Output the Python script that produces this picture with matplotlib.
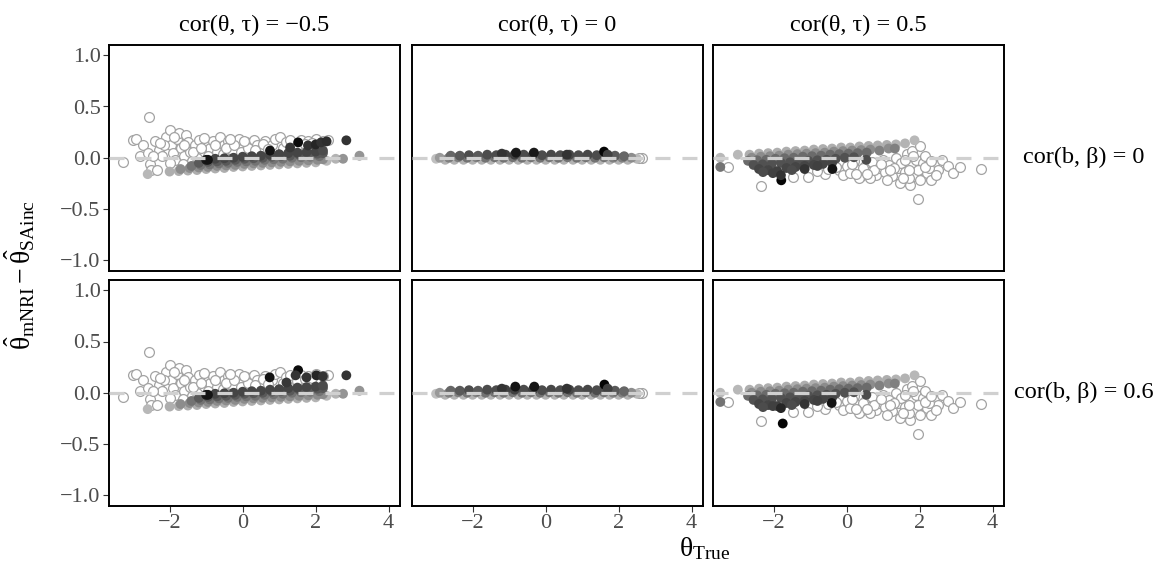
import matplotlib.pyplot as plt

plt.rcParams['font.family'] = 'Liberation Serif'
plt.rcParams['mathtext.fontset'] = 'custom'
plt.rcParams['mathtext.rm'] = 'Liberation Serif'
plt.rcParams['mathtext.it'] = 'Liberation Serif:italic'

# facet labels
col_labels = ['cor(θ, τ) = −0.5', 'cor(θ, τ) = 0', 'cor(θ, τ) = 0.5']
row_labels = ['cor(b, β) = 0', 'cor(b, β) = 0.6']
x_ticks = [-2, 0, 2, 4]
y_ticks = [-1.0, -0.5, 0.0, 0.5, 1.0]

# open (unfilled) points per column, (theta_true, difference) - same look in both rows
open_c0 = [(-3.28, -0.04), (-2.57, 0.40), (-3.0, 0.17), (-2.91, 0.18), (-2.73, 0.12), (-2.8, 0.02),
           (-2.55, -0.06), (-2.5, -0.12), (-2.35, -0.12), (-2.6, 0.05), (-2.4, 0.16), (-2.3, 0.08),
           (-2.2, 0.02), (-2.1, 0.2), (-2.0, 0.27), (-1.95, 0.12), (-1.9, 0.05), (-1.85, -0.02),
           (-1.8, 0.18), (-1.73, 0.24), (-1.7, 0.1), (-1.6, 0.02), (-1.55, 0.22), (-1.5, 0.15),
           (-1.45, 0.06), (-1.4, -0.03), (-1.3, 0.12), (-1.2, 0.17), (-1.1, 0.05), (-1.0, 0.14),
           (-0.9, 0.1), (-0.8, 0.16), (-0.7, 0.06), (-0.63, 0.2), (-0.5, 0.12), (-0.4, 0.16),
           (-0.3, 0.08), (-0.2, 0.14), (-0.1, 0.18), (0.0, 0.1), (0.1, 0.15), (0.2, 0.06),
           (0.3, 0.17), (0.4, 0.12), (0.5, 0.09), (0.6, 0.16), (0.8, 0.12), (0.9, 0.18),
           (1.01, 0.2), (1.1, 0.1), (1.2, 0.15), (1.4, 0.13), (1.6, 0.17), (1.8, 0.16),
           (2.0, 0.18), (2.34, 0.17), (-2.15, 0.12), (-1.25, 0.0), (-2.0, -0.05), (-1.6, 0.12),
           (-2.45, 0.02), (-2.25, 0.14), (-1.88, 0.2), (-1.62, -0.06), (-1.35, 0.06), (-1.15, 0.1),
           (-0.95, 0.02), (-0.75, 0.12), (-0.55, 0.04), (-0.45, 0.1), (-0.25, 0.12), (-0.05, 0.06),
           (0.15, 0.1), (0.35, 0.08), (0.55, 0.13), (0.7, 0.09), (1.3, 0.17), (1.5, 0.11),
           (1.7, 0.13), (1.9, 0.14), (2.2, 0.16), (0.05, 0.16), (-0.35, 0.18), (-1.05, 0.19)]
open_c1 = [(2.65, 0.0), (2.55, 0.0)]
open_c2 = [(-3.25, -0.09), (-2.34, -0.28), (-1.47, -0.19), (-1.06, -0.19), (-0.6, -0.16), (-0.4, -0.05),
           (-0.2, -0.12), (-0.1, -0.17), (0.0, -0.08), (0.1, -0.15), (0.2, -0.03), (0.3, -0.12),
           (0.4, -0.18), (0.5, -0.08), (0.6, -0.14), (0.7, -0.04), (0.8, -0.17), (0.9, -0.10),
           (1.0, -0.02), (1.05, -0.14), (1.15, -0.07), (1.25, -0.18), (1.35, 0.0), (1.4, -0.1),
           (1.45, -0.25), (1.5, -0.05), (1.6, -0.14), (1.65, 0.04), (1.73, -0.27), (1.75, -0.08),
           (1.8, 0.07), (1.85, -0.18), (1.9, -0.02), (1.95, -0.40), (2.0, 0.11), (2.05, -0.12),
           (2.1, -0.05), (2.15, 0.02), (2.2, -0.15), (2.32, -0.22), (2.4, -0.06), (2.5, -0.12),
           (2.6, -0.02), (2.78, -0.08), (2.91, -0.15), (3.1, -0.09), (3.69, -0.11), (-0.8, -0.13),
           (0.35, -0.2), (1.1, -0.22), (1.3, -0.1), (1.7, -0.2), (2.25, -0.1), (0.65, -0.2),
           (-0.3, -0.09), (0.15, -0.06), (0.45, -0.1), (0.75, -0.12), (0.95, -0.06), (1.2, -0.12),
           (1.55, -0.2), (1.6, -0.02), (1.95, -0.12), (2.0, -0.22), (2.15, -0.09), (2.3, -0.03),
           (1.82, 0.02), (1.7, -0.12), (0.55, -0.16), (0.25, -0.16), (-0.5, -0.11), (2.45, -0.17)]

# filled points per column: (theta_true, difference, shade 0=black .. 1=white)
band_c0 = [(-2.6, -0.16, 0.72), (-2.0, -0.135, 0.68), (-1.75, -0.13, 0.68), (-1.5, -0.125, 0.68),
           (-1.25, -0.12, 0.68), (-1.0, -0.11, 0.68), (-0.75, -0.105, 0.68), (-0.5, -0.1, 0.68),
           (-0.25, -0.09, 0.68), (0.0, -0.085, 0.68), (0.25, -0.08, 0.68), (0.5, -0.075, 0.68),
           (0.75, -0.07, 0.68), (1.0, -0.065, 0.68), (1.25, -0.06, 0.68), (1.5, -0.055, 0.68),
           (1.75, -0.05, 0.68), (2.0, -0.045, 0.7), (2.3, -0.03, 0.72), (2.55, -0.01, 0.7),
           (2.75, -0.01, 0.58), (3.2, 0.02, 0.58),
           (-1.7, -0.11, 0.55), (-1.45, -0.1, 0.55), (-1.2, -0.095, 0.55), (-0.95, -0.09, 0.55),
           (-0.7, -0.08, 0.55), (-0.45, -0.075, 0.55), (-0.2, -0.07, 0.55), (0.05, -0.06, 0.55),
           (0.3, -0.055, 0.55), (0.55, -0.05, 0.55), (0.8, -0.045, 0.55), (1.05, -0.04, 0.55),
           (1.3, -0.035, 0.55), (1.55, -0.03, 0.55), (1.8, -0.025, 0.55), (2.05, -0.02, 0.55),
           (2.2, -0.015, 0.55),
           (-1.4, -0.08, 0.45), (-1.15, -0.07, 0.45), (-0.9, -0.065, 0.45), (-0.65, -0.055, 0.45),
           (-0.4, -0.05, 0.45), (-0.15, -0.04, 0.45), (0.1, -0.035, 0.45), (0.35, -0.03, 0.45),
           (0.6, -0.02, 0.45), (0.85, -0.015, 0.45), (1.1, -0.01, 0.45), (1.35, 0.0, 0.45),
           (1.6, 0.005, 0.45), (1.85, 0.01, 0.45), (2.1, 0.015, 0.45),
           (-1.2, -0.05, 0.35), (-0.95, -0.04, 0.35), (-0.7, -0.035, 0.35), (-0.45, -0.03, 0.35),
           (-0.2, -0.02, 0.35), (0.05, -0.01, 0.35), (0.3, -0.005, 0.35), (0.55, 0.0, 0.35),
           (0.8, 0.01, 0.35), (1.05, 0.015, 0.35), (1.3, 0.02, 0.35), (1.55, 0.03, 0.35),
           (1.8, 0.035, 0.35), (2.05, 0.04, 0.35), (2.2, 0.045, 0.35),
           (-1.0, -0.02, 0.1), (-0.75, -0.01, 0.27), (-0.5, -0.005, 0.27), (-0.25, 0.0, 0.27),
           (0.0, 0.01, 0.27), (0.25, 0.015, 0.27), (0.5, 0.02, 0.27), (0.75, 0.03, 0.27),
           (1.0, 0.035, 0.27), (1.25, 0.045, 0.27), (1.5, 0.05, 0.27), (1.75, 0.055, 0.27),
           (2.0, 0.06, 0.27), (2.2, 0.07, 0.3)]
band_c1 = [(-3.0, -0.01, 0.75), (-2.75, -0.02, 0.7), (-2.5, -0.02, 0.7), (-2.25, -0.02, 0.7),
           (-2.0, -0.02, 0.7), (-1.75, -0.02, 0.7), (-1.5, -0.02, 0.7), (-1.25, -0.02, 0.7),
           (-1.0, -0.02, 0.7), (-0.75, -0.02, 0.7), (-0.5, -0.02, 0.7), (-0.25, -0.02, 0.7),
           (0.0, -0.02, 0.7), (0.25, -0.02, 0.7), (0.5, -0.02, 0.7), (0.75, -0.02, 0.7),
           (1.0, -0.02, 0.7), (1.25, -0.02, 0.7), (1.5, -0.02, 0.7), (1.75, -0.02, 0.7),
           (2.0, -0.02, 0.7), (2.25, -0.02, 0.7), (2.5, -0.01, 0.72),
           (-2.9, 0.0, 0.6), (-2.65, 0.0, 0.5), (-2.4, 0.005, 0.5), (-2.15, 0.0, 0.45),
           (-1.9, 0.005, 0.5), (-1.65, 0.0, 0.45), (-1.4, 0.005, 0.45), (-1.15, 0.0, 0.45),
           (-0.9, 0.005, 0.45), (-0.65, 0.0, 0.45), (-0.4, 0.005, 0.45), (-0.15, 0.0, 0.45),
           (0.1, 0.005, 0.45), (0.35, 0.0, 0.45), (0.6, 0.005, 0.45), (0.85, 0.0, 0.45),
           (1.1, 0.005, 0.45), (1.35, 0.0, 0.45), (1.6, 0.005, 0.45), (1.85, 0.0, 0.5),
           (2.1, 0.0, 0.5), (2.35, 0.0, 0.55),
           (-2.6, 0.02, 0.4), (-2.35, 0.02, 0.35), (-2.1, 0.025, 0.3), (-1.85, 0.02, 0.35),
           (-1.6, 0.03, 0.3), (-1.35, 0.025, 0.3), (-1.1, 0.03, 0.25), (-0.85, 0.03, 0.25),
           (-0.6, 0.03, 0.3), (-0.35, 0.03, 0.25), (-0.1, 0.025, 0.3), (0.15, 0.03, 0.28),
           (0.4, 0.025, 0.3), (0.65, 0.03, 0.28), (0.9, 0.025, 0.3), (1.15, 0.03, 0.28),
           (1.4, 0.025, 0.3), (1.65, 0.03, 0.3), (1.9, 0.02, 0.35), (2.15, 0.015, 0.4)]
band_c2 = [(-3.46, 0.0, 0.72), (-2.98, 0.03, 0.72), (-3.46, -0.09, 0.45),
           (-2.66, 0.03, 0.68), (-2.4, 0.04, 0.68), (-2.15, 0.045, 0.68), (-1.9, 0.05, 0.68),
           (-1.65, 0.06, 0.68), (-1.4, 0.065, 0.68), (-1.15, 0.07, 0.68), (-0.9, 0.08, 0.68),
           (-0.65, 0.085, 0.68), (-0.4, 0.09, 0.68), (-0.15, 0.1, 0.68), (0.1, 0.1, 0.68),
           (0.35, 0.11, 0.68), (0.6, 0.115, 0.68), (0.85, 0.12, 0.68), (1.1, 0.125, 0.68),
           (1.35, 0.13, 0.7), (1.6, 0.14, 0.7), (1.86, 0.17, 0.72),
           (-2.6, 0.0, 0.55), (-2.35, 0.01, 0.55), (-2.1, 0.015, 0.55), (-1.85, 0.02, 0.55),
           (-1.6, 0.03, 0.55), (-1.35, 0.035, 0.55), (-1.1, 0.04, 0.55), (-0.85, 0.045, 0.55),
           (-0.6, 0.05, 0.55), (-0.35, 0.06, 0.55), (-0.1, 0.065, 0.55), (0.15, 0.07, 0.55),
           (0.4, 0.075, 0.55), (0.65, 0.08, 0.55), (0.9, 0.07, 0.5), (1.15, 0.09, 0.55),
           (1.32, 0.09, 0.5),
           (-2.7, -0.03, 0.42), (-2.45, -0.025, 0.42), (-2.2, -0.02, 0.42), (-1.95, -0.01, 0.42),
           (-1.7, -0.005, 0.42), (-1.45, 0.0, 0.42), (-1.2, 0.01, 0.42), (-0.95, 0.015, 0.42),
           (-0.7, 0.02, 0.42), (-0.45, 0.03, 0.42), (-0.2, 0.035, 0.42), (0.05, 0.04, 0.42),
           (0.3, 0.045, 0.42), (0.55, 0.05, 0.42),
           (-2.55, -0.07, 0.32), (-2.3, -0.065, 0.32), (-2.05, -0.06, 0.32), (-1.8, -0.05, 0.32),
           (-1.55, -0.045, 0.32), (-1.3, -0.04, 0.32), (-1.05, -0.03, 0.32), (-0.8, -0.025, 0.32),
           (-0.55, -0.02, 0.32), (-0.3, -0.01, 0.32), (-0.05, 0.0, 0.32), (0.2, 0.005, 0.32),
           (-2.4, -0.11, 0.27), (-2.15, -0.12, 0.27), (-1.9, -0.13, 0.25), (-1.65, -0.1, 0.27),
           (-1.4, -0.09, 0.27), (-1.15, -0.08, 0.27), (-0.9, -0.07, 0.27), (-0.65, -0.06, 0.27),
           (-0.4, -0.05, 0.27), (0.54, -0.02, 0.3)]

# darkest points that differ between the two rows
dark_00 = [(-0.95, -0.02, 0.08), (0.75, 0.07, 0.08), (1.52, 0.15, 0.05), (1.79, 0.12, 0.2),
           (2.0, 0.13, 0.15), (2.15, 0.15, 0.2), (2.3, 0.16, 0.18), (2.84, 0.17, 0.2), (1.3, 0.1, 0.22)]
dark_01 = [(-1.2, 0.04, 0.2), (-0.81, 0.05, 0.1), (-0.32, 0.05, 0.1), (0.58, 0.03, 0.2), (1.6, 0.06, 0.02),
           (1.7, 0.03, 0.25)]
dark_02 = [(-2.29, -0.14, 0.3), (-2.02, -0.15, 0.25), (-1.79, -0.22, 0.02), (-1.8, -0.17, 0.2),
           (-1.15, -0.11, 0.2), (-0.39, -0.11, 0.08), (-1.5, -0.12, 0.3), (-0.8, -0.08, 0.25)]
dark_10 = [(-0.95, -0.02, 0.08), (0.74, 0.15, 0.08), (1.52, 0.22, 0.05), (1.75, 0.15, 0.2),
           (2.02, 0.17, 0.15), (2.2, 0.16, 0.2), (1.45, 0.17, 0.2), (2.84, 0.17, 0.2), (1.2, 0.1, 0.22)]
dark_11 = [(-1.2, 0.04, 0.2), (-0.83, 0.06, 0.08), (-0.31, 0.06, 0.08), (0.58, 0.04, 0.2), (1.61, 0.08, 0.02),
           (1.7, 0.04, 0.25)]
dark_12 = [(-2.29, -0.14, 0.3), (-2.02, -0.13, 0.25), (-1.75, -0.30, 0.02), (-1.8, -0.15, 0.15),
           (-1.15, -0.11, 0.2), (-0.41, -0.10, 0.08), (-1.5, -0.12, 0.3), (-0.8, -0.08, 0.25)]

open_pts = [open_c0, open_c1, open_c2]
band_pts = [band_c0, band_c1, band_c2]
dark_pts = [[dark_00, dark_01, dark_02], [dark_10, dark_11, dark_12]]

W, H = 1165, 567
fig = plt.figure(figsize=(W / 100, H / 100), dpi=100)

lefts = [109, 412, 713]
panel_w = 291
tops = [45, 280]
panel_h = 225.5

for r in range(2):
    for c in range(3):
        ax = fig.add_axes([lefts[c] / W, 1 - (tops[r] + panel_h) / H, panel_w / W, panel_h / H])
        ox = [p[0] for p in open_pts[c]]
        oy = [p[1] for p in open_pts[c]]
        ax.scatter(ox, oy, s=50, facecolors='white', edgecolors='#A3A3A3', linewidths=0.9, zorder=2)
        pts = band_pts[c] + dark_pts[r][c]
        fx = [p[0] for p in pts]
        fy = [p[1] for p in pts]
        fg = [p[2] for p in pts]
        ax.scatter(fx, fy, s=50, c=fg, cmap='gray', vmin=0, vmax=1, edgecolors='none', zorder=3)
        ax.axhline(0, color='#D0D0D0', lw=2.3, ls=(0, (4.7, 3.75)), zorder=4)

        ax.set_xlim(-3.66, 4.31)
        ax.set_ylim(-1.1, 1.1)
        ax.set_xticks(x_ticks)
        ax.set_yticks(y_ticks)
        for s in ax.spines.values():
            s.set_linewidth(1.4)
            s.set_color('black')
        ax.tick_params(length=4, width=0.8, color='#333333', labelcolor='#4D4D4D', labelsize=16, pad=2)
        if c > 0:
            ax.tick_params(axis='y', left=False, labelleft=False)
        else:
            ax.set_yticklabels([f'{v:.1f}'.replace('-', '\u2212') for v in y_ticks])
        if r == 0:
            ax.tick_params(axis='x', bottom=False, labelbottom=False)
            ax.set_title(col_labels[c], fontsize=17.5, pad=10)
        if c == 2:
            ax.text(1.275, 0.5, row_labels[r], transform=ax.transAxes, fontsize=17.5,
                    ha='center', va='center')

fig.text(705 / W, 1 - 549 / H, r'$\mathrm{\theta}_{\mathrm{True}}$', ha='center', va='center', fontsize=20)
fig.text(20 / W, 1 - 275 / H, r'$\hat{\mathrm{\theta}}_{\mathrm{mNRI}} - \hat{\mathrm{\theta}}_{\mathrm{SAinc}}$',
         ha='center', va='center', rotation=90, fontsize=20)

fig.savefig('out.png', dpi=100)
